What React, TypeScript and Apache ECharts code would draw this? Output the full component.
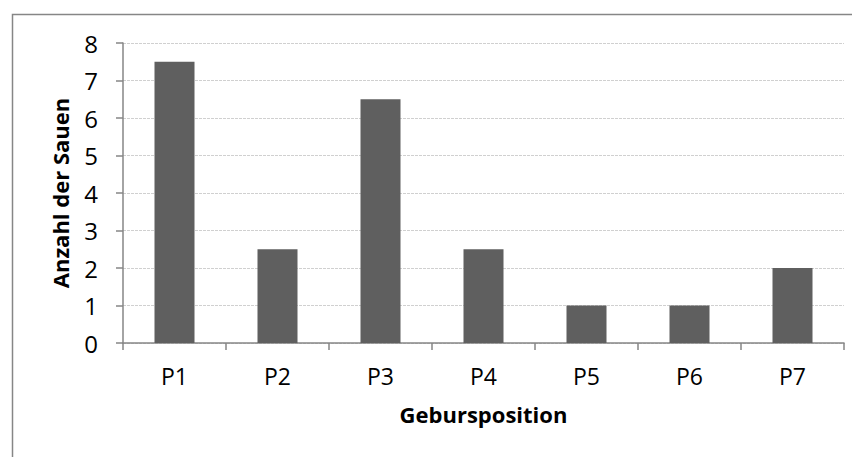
import React, { useEffect, useRef } from "react";
import * as echarts from "echarts";

const categories = ["P1", "P2", "P3", "P4", "P5", "P6", "P7"];
const values = [7.5, 2.5, 6.5, 2.5, 1, 1, 2];
const yTicks = [0, 1, 2, 3, 4, 5, 6, 7, 8];
const xTitle = "Gebursposition";
const yTitle = "Anzahl der Sauen";

const FONT = "'Open Sans', Lato, sans-serif";

export default function App() {
  const ref = useRef<HTMLDivElement>(null);
  useEffect(() => {
    if (!ref.current) return;
    const chart = echarts.init(ref.current, undefined, { renderer: "svg" });
    chart.setOption({
      animation: false,
      backgroundColor: "#ffffff",
      graphic: [
        {
          type: "rect",
          shape: { x: 4.5, y: 6.5, width: 900, height: 500 },
          style: { fill: "none", stroke: "#868686", lineWidth: 1.5 },
          z: 10,
        },
      ],
      grid: { left: 115, top: 35, right: 16, bottom: 114 },
      xAxis: {
        type: "category",
        data: categories,
        name: xTitle,
        nameLocation: "middle",
        nameGap: 60,
        nameTextStyle: { fontFamily: FONT, fontWeight: "bold", fontSize: 22, color: "#000" },
        axisLine: { lineStyle: { color: "#868686", width: 1.5 } },
        axisTick: { show: true, length: 7, lineStyle: { color: "#868686", width: 1.5 } },
        axisLabel: { fontFamily: FONT, fontSize: 23, color: "#000", margin: 21 },
      },
      yAxis: {
        type: "value",
        min: yTicks[0],
        max: yTicks[yTicks.length - 1],
        interval: 1,
        name: yTitle,
        nameLocation: "middle",
        nameGap: 52,
        nameTextStyle: { fontFamily: FONT, fontWeight: "bold", fontSize: 22, color: "#000" },
        axisLine: { show: true, lineStyle: { color: "#868686", width: 1.5 } },
        axisTick: { show: true, length: 7, lineStyle: { color: "#868686", width: 1.5 } },
        axisLabel: { fontFamily: FONT, fontSize: 24, color: "#000", margin: 25 },
        splitLine: { show: true, lineStyle: { color: "#d0d0d0", type: [3, 1], width: 1 } },
      },
      series: [
        {
          type: "bar",
          data: values,
          barWidth: 40,
          itemStyle: { color: "#5f5f5f" },
        },
      ],
    });
    return () => chart.dispose();
  }, []);
  return <div ref={ref} style={{ width: 852, height: 449 }} />;
}
